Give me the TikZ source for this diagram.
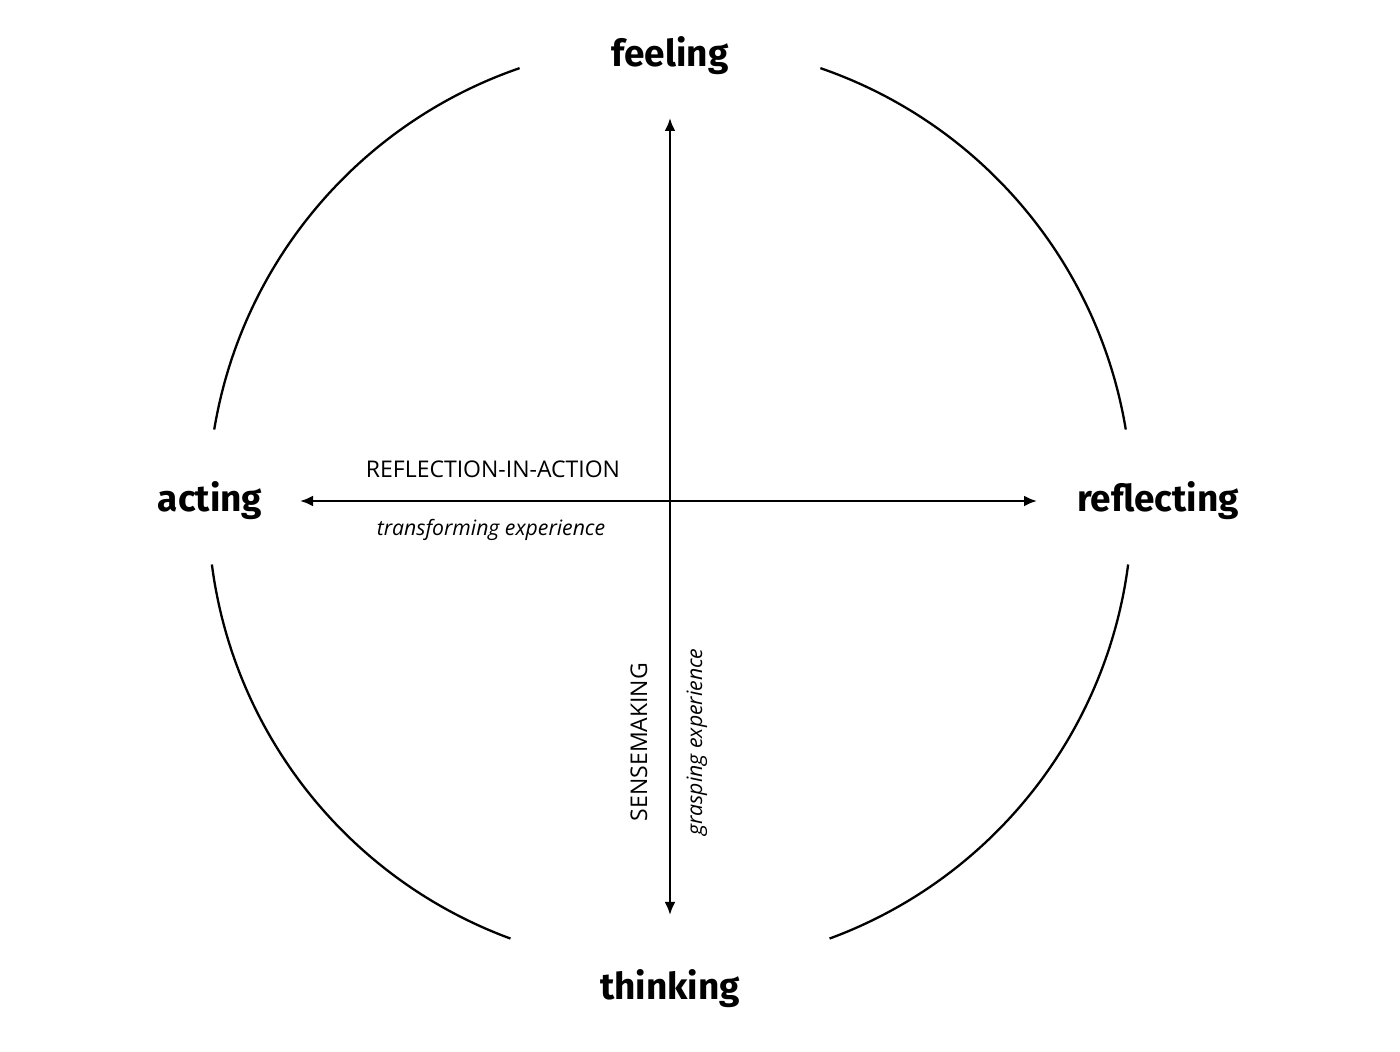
\documentclass[tikz,border=0pt]{standalone}
\usepackage{fontspec}
\setmainfont{Open Sans}
\newfontfamily\labelf{Fira Sans}
\usetikzlibrary{arrows.meta}
\begin{document}
\begin{tikzpicture}[x=1pt,y=1pt,
  pole/.style={font=\labelf\bfseries\fontsize{37}{40}\selectfont, inner sep=0pt, anchor=base},
  caps/.style={font=\fontsize{23}{26}\selectfont, inner sep=0pt},
  ital/.style={font=\itshape\fontsize{21.2}{24}\selectfont, inner sep=0pt},
  ring/.style={line width=2.3pt},
  axis/.style={line width=2.5pt, {Latex[length=13pt,width=11pt]}-{Latex[length=13pt,width=11pt]}}]
\useasboundingbox (0,0) rectangle (1400,1052);
\coordinate (c) at (670,547);
% arcs
\draw[ring] (c) ++(9.4:462) arc[start angle=9.4, end angle=71, radius=462];
\draw[ring] (c) ++(109:462) arc[start angle=109, end angle=170.6, radius=462];
\draw[ring] (c) ++(187.4:462) arc[start angle=187.4, end angle=249.8, radius=462];
\draw[ring] (c) ++(290.2:462) arc[start angle=290.2, end angle=352.6, radius=462];
% axes
\coordinate (top) at (670,934);
\coordinate (bot) at (670,137);
\coordinate (lft) at (300,551);
\coordinate (rgt) at (1037,551);
\draw[axis] (bot) -- (top);
\draw[axis] (lft) -- (rgt);
% labels
\node[pole] (feeling) at (670,985) {feeling};
\node[pole] (acting) at (210,540) {acting};
\node[pole] (reflecting) at (1158,540) {reflecting};
\node[pole] (thinking) at (670,52) {thinking};
\node[caps, anchor=base] (ria) at (493,574) {REFLECTION-IN-ACTION};
\node[ital, anchor=base] (te) at (491,516) {transforming experience};
\node[caps, rotate=90, anchor=base] (sm) at (647,310) {SENSEMAKING};
\node[ital, rotate=90, anchor=base] (ge) at (702,310) {grasping experience};
\end{tikzpicture}
\end{document}
